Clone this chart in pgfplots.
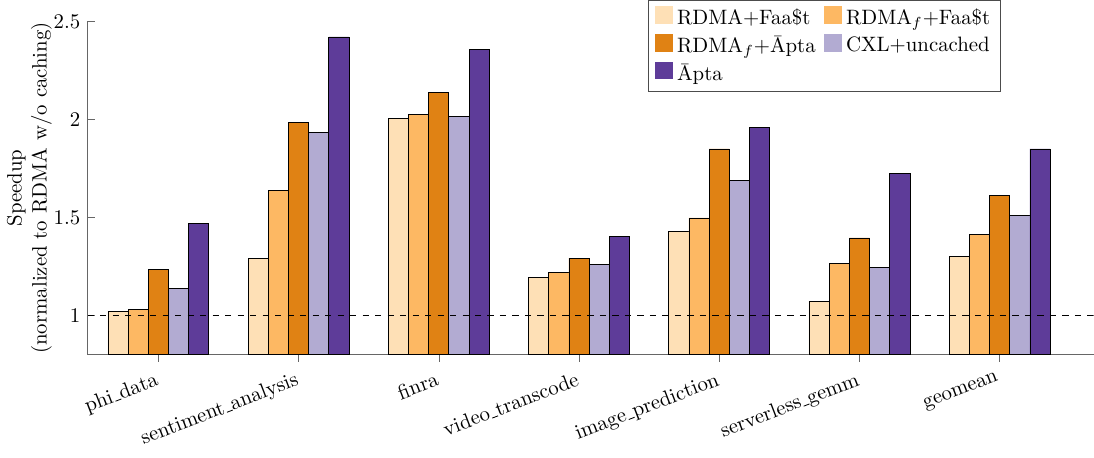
\documentclass[border=0pt]{standalone}
\usepackage{pgfplots}
\pgfplotsset{compat=1.18}
\definecolor{c1}{HTML}{FEE0B6}
\definecolor{c2}{HTML}{FDB863}
\definecolor{c3}{HTML}{E08214}
\definecolor{c4}{HTML}{B2ABD2}
\definecolor{c5}{HTML}{5E3C99}
\newcommand{\us}{\leavevmode\kern.06em\vbox{\hrule width.3em}}
\begin{document}
\begin{tikzpicture}
\begin{axis}[
  scale only axis,
  width=483pt, height=160pt,
  ybar=0pt, bar width=0.144,
  xmin=-0.505, xmax=6.67,
  ymin=0.8, ymax=2.5,
  ytick={1,1.5,2,2.5},
  xtick={0,1,2,3,4,5,6},
  xticklabels={phi\us data,sentiment\us analysis,finra,video\us transcode,image\us prediction,serverless\us gemm,geomean},
  xticklabel style={rotate=21, anchor=north east},
  axis x line*=bottom, axis y line*=left,
  axis line style={black!60},
  x tick style={black!60},
  y tick style={black!60},
  ytick align=inside,
  xtick align=outside,
  major tick length=3.5pt,
  ylabel={Speedup\\(normalized to RDMA w/o caching)},
  ylabel style={align=center},
  ylabel shift=-6pt,
  legend columns=2,
  legend cell align=left,
  legend style={at={(0.908,1.064)}, anchor=north east, draw=black!70, /tikz/every even column/.append style={column sep=2pt}},
  legend image code/.code={\draw[#1, draw=none] (0cm,-0.1cm) rectangle (0.3cm,0.2cm);},
]
\addplot[fill=c1, draw=black] coordinates {(0,1.02) (1,1.292) (2,2.005) (3,1.194) (4,1.426) (5,1.072) (6,1.301)};
\addplot[fill=c2, draw=black] coordinates {(0,1.032) (1,1.635) (2,2.025) (3,1.22) (4,1.497) (5,1.264) (6,1.411)};
\addplot[fill=c3, draw=black] coordinates {(0,1.235) (1,1.985) (2,2.135) (3,1.292) (4,1.849) (5,1.395) (6,1.612)};
\addplot[fill=c4, draw=black] coordinates {(0,1.135) (1,1.935) (2,2.015) (3,1.261) (4,1.689) (5,1.244) (6,1.509)};
\addplot[fill=c5, draw=black] coordinates {(0,1.467) (1,2.42) (2,2.355) (3,1.404) (4,1.957) (5,1.725) (6,1.849)};
\legend{RDMA+Faa\$t, RDMA$_f$+Faa\$t, RDMA$_f$+\=Apta, CXL+uncached, \=Apta}
\end{axis}
\begin{axis}[
  scale only axis,
  width=483pt, height=160pt,
  xmin=-0.505, xmax=6.67,
  ymin=0.8, ymax=2.5,
  hide axis,
]
\addplot[black, thick, dashed, forget plot] coordinates {(-0.505,1) (6.67,1)};
\end{axis}
\end{tikzpicture}
\end{document}
